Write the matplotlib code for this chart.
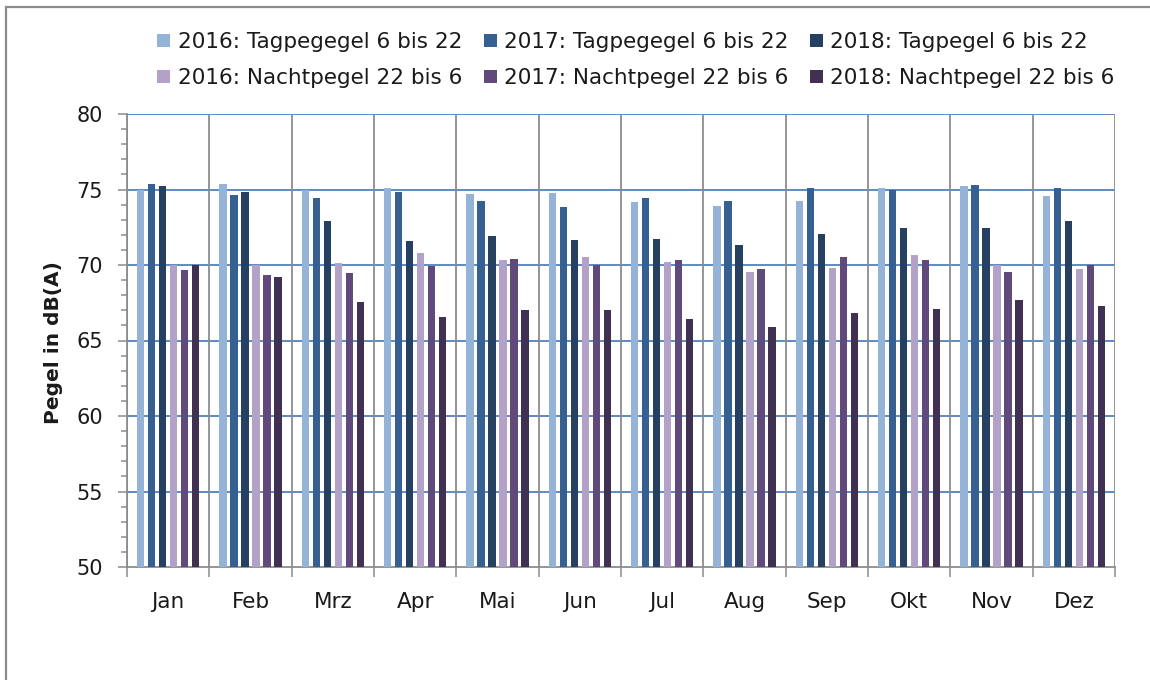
import matplotlib
matplotlib.use("Agg")
import matplotlib.pyplot as plt
import numpy as np
from matplotlib.patches import Rectangle
from matplotlib.ticker import MultipleLocator

months = ["Jan", "Feb", "Mrz", "Apr", "Mai", "Jun", "Jul", "Aug", "Sep", "Okt", "Nov", "Dez"]
series_names = ["2016: Tagpegegel 6 bis 22", "2017: Tagpegegel 6 bis 22", "2018: Tagpegel 6 bis 22",
                "2016: Nachtpegel 22 bis 6", "2017: Nachtpegel 22 bis 6", "2018: Nachtpegel 22 bis 6"]
tag_2016 = [75.0, 75.35, 75.0, 75.13, 74.69, 74.78, 74.19, 73.94, 74.27, 75.13, 75.22, 74.54]
tag_2017 = [75.35, 74.63, 74.43, 74.85, 74.27, 73.85, 74.43, 74.27, 75.13, 74.98, 75.29, 75.13]
tag_2018 = [75.24, 74.85, 72.91, 71.6, 71.92, 71.65, 71.74, 71.32, 72.07, 72.42, 72.42, 72.91]
nacht_2016 = [70.0, 70.0, 70.13, 70.8, 70.31, 70.55, 70.22, 69.54, 69.78, 70.64, 70.02, 69.71]
nacht_2017 = [69.7, 69.34, 69.5, 69.96, 70.4, 69.98, 70.31, 69.71, 70.53, 70.31, 69.54, 70.0]
nacht_2018 = [70.03, 69.2, 67.58, 66.56, 67.0, 67.0, 66.41, 65.9, 66.83, 67.09, 67.69, 67.27]
y_ticks = [50, 55, 60, 65, 70, 75, 80]
colors = ["#95B3D7", "#376092", "#254061", "#B3A2C7", "#604A7B", "#403152"]

series = [tag_2016, tag_2017, tag_2018, nacht_2016, nacht_2017, nacht_2018]

plt.rcParams['font.family'] = ['DejaVu Sans']
txt = "#1a1a1a"
grid_gray = "#8c8c8c"

fig = plt.figure(figsize=(11.5, 6.8), dpi=100)
ax = fig.add_axes([127/1150, 1-567/680, (1115-127)/1150, (567-114)/680])

x = np.arange(len(months))
pitch = 0.1337
width = 0.088
for i, (vals, c, name) in enumerate(zip(series, colors, series_names)):
    ax.bar(x + (i - 2.5) * pitch, np.array(vals) - 50, bottom=50, width=width,
           color=c, label=name, zorder=3, edgecolor='none')

ax.set_xlim(-0.5, len(months) - 0.5)
ax.set_ylim(50, 80)
ax.set_yticks(y_ticks)
ax.yaxis.set_minor_locator(MultipleLocator(1))
ax.set_xticks(x)
ax.set_xticklabels(months)
ax.set_xticks(np.arange(len(months) + 1) - 0.5, minor=True)

ax.tick_params(axis='y', which='major', direction='out', length=6.5, width=1.1, color=grid_gray,
               labelsize=15, labelcolor=txt, pad=11)
ax.tick_params(axis='y', which='minor', direction='out', length=4.3, width=1.1, color=grid_gray)
ax.tick_params(axis='x', which='major', length=0, labelsize=15.5, labelcolor=txt, pad=18)
ax.tick_params(axis='x', which='minor', direction='out', length=7, width=1.1, color=grid_gray)

for v in y_ticks[1:]:
    ax.axhline(v, color="#4F81BD", lw=1.3, zorder=1)
for b in np.arange(len(months) + 1) - 0.5:
    ax.axvline(b, color=grid_gray, lw=1.3, zorder=1)

for s in ['top', 'right']:
    ax.spines[s].set_visible(False)
for s in ['left', 'bottom']:
    ax.spines[s].set_color(grid_gray)
    ax.spines[s].set_linewidth(1.3)

fig.text(54/1150, 1-343/680, "Pegel in dB(A)", rotation=90, fontsize=14.5, fontweight='bold',
         color=txt, ha='center', va='center')

handles, labels = ax.get_legend_handles_labels()
order = [0, 3, 1, 4, 2, 5]
leg = fig.legend([handles[k] for k in order], [labels[k] for k in order], loc='center',
                 bbox_to_anchor=(636/1150, 1-60/680), ncol=3,
                 frameon=False, fontsize=15.5, handlelength=0.6, handleheight=0.6,
                 handletextpad=0.35, columnspacing=1.0, labelspacing=0.75,
                 labelcolor=txt)

fig.patches.append(Rectangle((6/1150, -0.1), 1.2, 1.1 - 7/680, transform=fig.transFigure,
                             fill=False, edgecolor=grid_gray, lw=1.6))

fig.savefig("out.png", dpi=100)
